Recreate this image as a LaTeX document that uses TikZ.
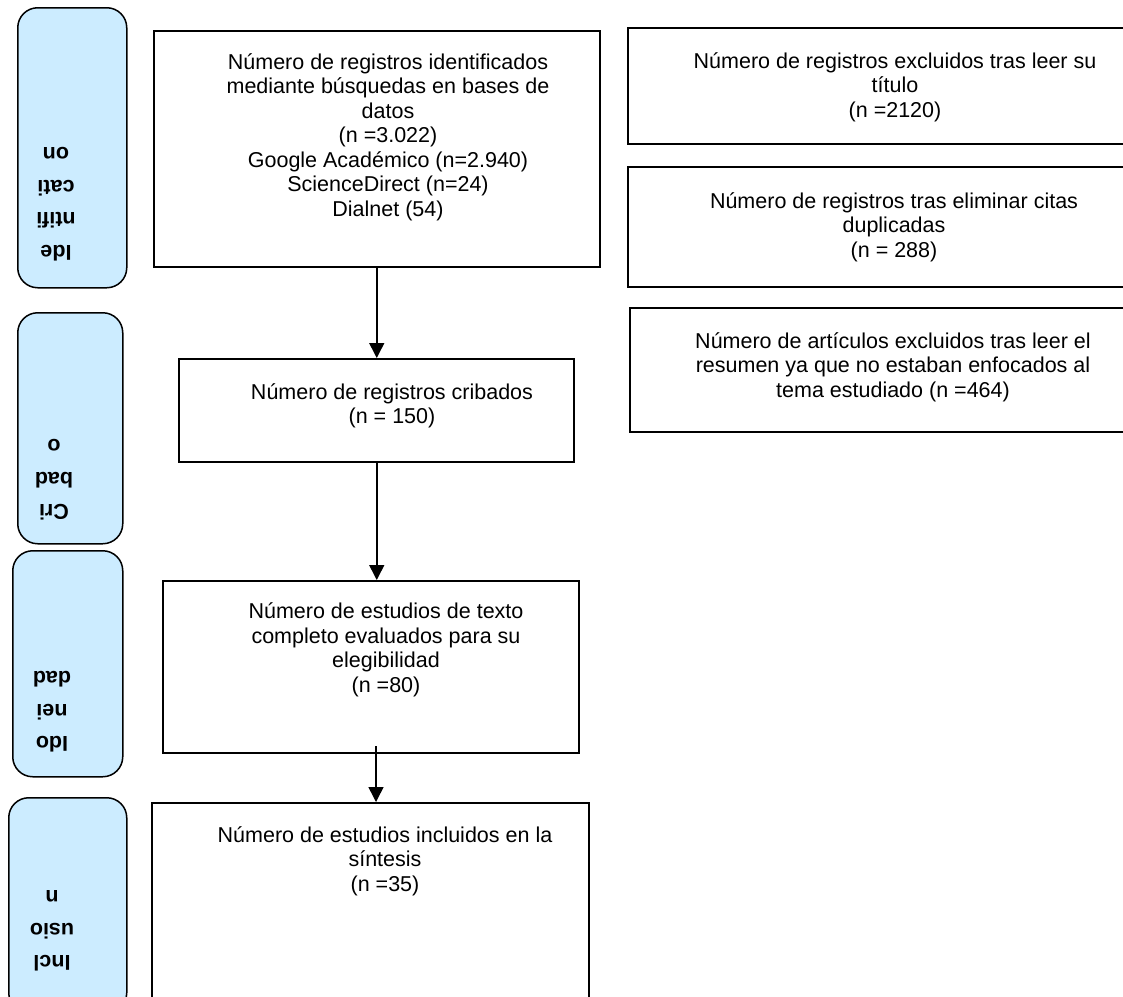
\documentclass[tikz,border=0pt]{standalone}
\usepackage{fontspec}
\setmainfont{Liberation Sans}
\usepackage{tikz}
\usetikzlibrary{arrows.meta}
\definecolor{fasebg}{HTML}{CCECFF}
\definecolor{ink}{HTML}{000000}

\begin{document}
\begin{tikzpicture}[x=1pt,y=-1pt,
  fase/.style={draw=ink,fill=fasebg,rounded corners=20pt,line width=1.5pt,inner sep=0pt,anchor=north west},
  faselbl/.style={rotate=180,align=center,font=\bfseries\fontsize{21.5}{32.5}\selectfont,inner sep=0pt},
  caja/.style={draw=ink,line width=1.5pt,inner sep=0pt,anchor=north west},
  txt/.style={align=center,font=\fontsize{21.5}{24.5}\selectfont,inner sep=0pt},
  arr/.style={-{Triangle[length=15pt,width=15pt]},draw=ink,line width=1.5pt}]
\useasboundingbox (0,0) rectangle (1123,996);
\clip (0,0) rectangle (1123,996);
% fases (texto invertido)
\node[fase,minimum width=109pt,minimum height=280pt] (s1) at (17,7) {};
\node[fase,minimum width=105pt,minimum height=231pt] (s2) at (17,312) {};
\node[fase,minimum width=110pt,minimum height=226pt] (s3) at (12,550) {};
\node[fase,minimum width=118pt,minimum height=215pt] (s4) at (8,797) {};
\node[faselbl] (l1) at (56,204) {Ide\\ntifi\\cati\\on};
\node[faselbl] (l2) at (54,480) {Cri\\bad\\o};
\node[faselbl] (l3) at (52,712) {Ido\\nei\\dad};
\node[faselbl] (l4) at (52,931) {Incl\\usio\\n};
% flujo principal
\node[caja,minimum width=446pt,minimum height=236pt] (b1) at (153,30) {};
\node[caja,minimum width=395pt,minimum height=103pt] (b2) at (178,358) {};
\node[caja,minimum width=416pt,minimum height=172pt] (b3) at (162,580) {};
\node[caja,minimum width=437pt,minimum height=210pt] (b4) at (151,802) {};
\node[txt] (t1) at (388,137) {Número de registros identificados\\mediante búsquedas en bases de\\datos\\(n =3.022)\\Google Académico (n=2.940)\\ScienceDirect (n=24)\\Dialnet (54)};
\node[txt] (t2) at (392,406) {Número de registros cribados\\(n = 150)};
\node[txt] (t3) at (386,650) {Número de estudios de texto\\completo evaluados para su\\elegibilidad\\(n =80)};
\node[txt] (t4) at (385,861) {Número de estudios incluidos en la\\síntesis\\(n =35)};
% exclusiones
\node[caja,minimum width=510pt,minimum height=116pt] (r1) at (627,27) {};
\node[caja,minimum width=510pt,minimum height=120pt] (r2) at (627,166) {};
\node[caja,minimum width=508pt,minimum height=124pt] (r3) at (629,307) {};
\node[txt] (tr1) at (895,87) {Número de registros excluidos tras leer su\\título\\(n =2120)};
\node[txt] (tr2) at (894,227) {Número de registros tras eliminar citas\\duplicadas\\(n = 288)};
\node[txt] (tr3) at (893,367) {Número de artículos excluidos tras leer el\\resumen ya que no estaban enfocados al\\tema estudiado (n =464)};
\coordinate (a3) at (376,746);
\draw[arr] (b1.south) -- (b1.south |- b2.north);
\draw[arr] (b1.south |- b2.south) -- (b1.south |- b3.north);
\draw[arr] (a3) -- (a3 |- b4.north);
\end{tikzpicture}
\end{document}
